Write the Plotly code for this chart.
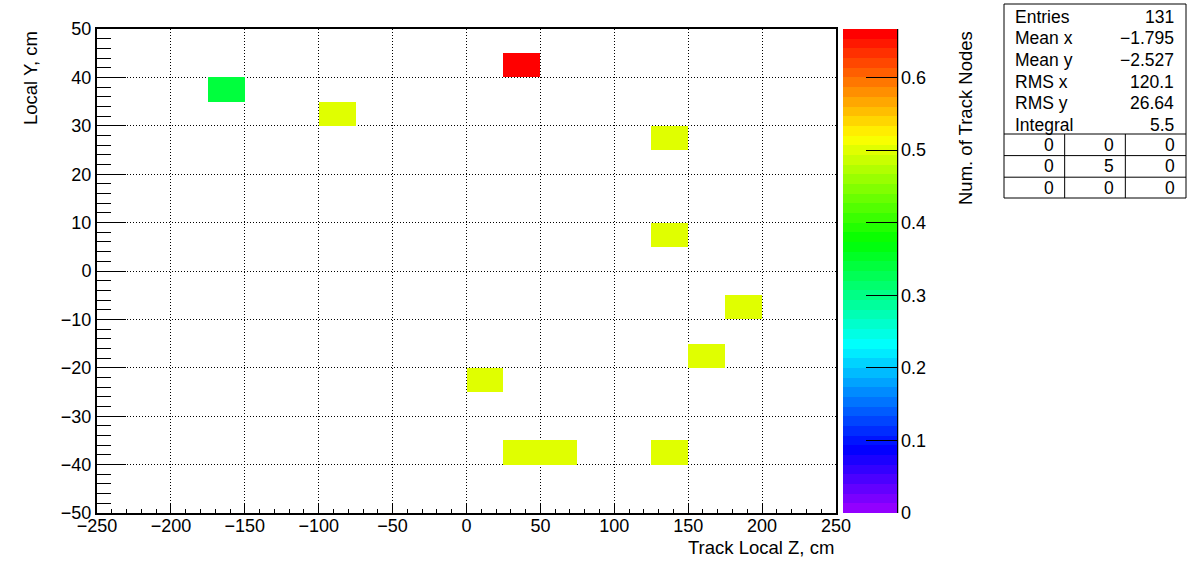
import colorsys
import numpy as np
import plotly.graph_objects as go

# ---------------- data ----------------
x_edges = list(range(-250, 251, 25))   # Track Local Z bins
y_edges = list(range(-50, 51, 5))      # Local Y bins
cell_z_low = [25, -175, -100, 125, 125, 175, 150, 0, 25, 50, 125]
cell_y_low = [40, 35, 30, 25, 5, -10, -20, -25, -40, -40, -40]
cell_value = [2/3, 1/3, 0.5, 0.5, 0.5, 0.5, 0.5, 0.5, 0.5, 0.5, 0.5]

stats_labels = ["Entries", "Mean x", "Mean y", "RMS x", "RMS y", "Integral"]
stats_values = ["131", "\u22121.795", "\u22122.527", "120.1", "26.64", "5.5"]
overflow_grid = [["0", "0", "0"], ["0", "5", "0"], ["0", "0", "0"]]

x_title = "Track Local Z, cm"
y_title = "Local Y, cm"
z_title = "Num. of Track Nodes"

# ---------------- build grid ----------------
xc = [(x_edges[i] + x_edges[i + 1]) / 2 for i in range(len(x_edges) - 1)]
yc = [(y_edges[i] + y_edges[i + 1]) / 2 for i in range(len(y_edges) - 1)]
z = np.full((len(yc), len(xc)), np.nan)
for zx, zy, v in zip(cell_z_low, cell_y_low, cell_value):
    ix = x_edges.index(zx)
    iy = y_edges.index(zy)
    z[iy, ix] = v
zmax = max(cell_value)

# ROOT "pretty palette" (50 colours, violet -> red)
ncol = 50
cols = []
for k in range(ncol):
    if k == ncol - 1:
        r, g, b = 1, 0, 0
    else:
        hue = 280 - (k + 1) * (280 / ncol)
        r, g, b = colorsys.hls_to_rgb(hue / 360, 0.5, 1)
    cols.append(f"rgb({round(r*255)},{round(g*255)},{round(b*255)})")
cs = [[0, cols[0]]]
for k in range(1, ncol):
    bnd = (k - 0.01) / ncol
    cs.append([bnd, cols[k - 1]])
    cs.append([bnd, cols[k]])
cs.append([1, cols[-1]])

FONT = "Liberation Sans, Arial, Helvetica, sans-serif"

# pixel layout
L, R, T, B = 97, 836, 29, 513
W, H = 1196, 572
def px(x):
    return (x - L) / (R - L)
def py(y):
    return (B - y) / (B - T)

fig = go.Figure()
fig.add_trace(go.Heatmap(
    x=xc, y=yc, z=z, zmin=0, zmax=zmax, colorscale=cs,
    hoverongaps=False,
    colorbar=dict(
        x=px(843), xanchor="left", xpad=0, ypad=0,
        y=0.5, yanchor="middle", len=1, lenmode="fraction",
        thickness=54, thicknessmode="pixels",
        outlinewidth=0,
        tick0=0, dtick=0.1, ticks="inside", ticklen=31, tickwidth=1,
        tickcolor="black",
        tickfont=dict(family=FONT, size=18, color="black"),
    ),
))

axis_common = dict(
    showline=True, linecolor="black", linewidth=2, mirror=True,
    ticks="inside", tickcolor="black", tickwidth=1,
    showgrid=True, gridcolor="black", gridwidth=1, griddash="1px,2px",
    zeroline=False,
    tickfont=dict(family=FONT, size=18, color="black"),
)
fig.update_xaxes(range=[-250, 250], tick0=-250, dtick=50, ticklen=9,
                 ticklabelstandoff=-5,
                 minor=dict(dtick=10, ticks="inside", ticklen=4.5, tickcolor="black", showgrid=False),
                 **axis_common)
fig.update_yaxes(range=[-50, 50], tick0=-50, dtick=10, ticklen=29,
                 minor=dict(dtick=2, ticks="inside", ticklen=14, tickcolor="black", showgrid=False),
                 **axis_common)

shapes = []
# colorbar right axis line
shapes.append(dict(type="line", xref="paper", yref="paper",
                   x0=px(897.5), x1=px(897.5), y0=0, y1=1,
                   line=dict(color="black", width=1.5)))
# stats box
bx0, bx1, by0, by1 = 1004, 1186, 4, 198
shapes.append(dict(type="rect", xref="paper", yref="paper",
                   x0=px(bx0), x1=px(bx1), y0=py(by1), y1=py(by0),
                   line=dict(color="black", width=1), fillcolor="white"))
row_h = 21.6
grid_top = 134
for yy in [grid_top, grid_top + row_h, grid_top + 2 * row_h]:
    shapes.append(dict(type="line", xref="paper", yref="paper",
                       x0=px(bx0), x1=px(bx1), y0=py(yy), y1=py(yy),
                       line=dict(color="black", width=1)))
cw = (bx1 - bx0) / 3
for xx in [bx0 + cw, bx0 + 2 * cw]:
    shapes.append(dict(type="line", xref="paper", yref="paper",
                       x0=px(xx), x1=px(xx), y0=py(grid_top), y1=py(by1),
                       line=dict(color="black", width=1)))

ann = []
sfont = dict(family=FONT, size=17.5, color="black")
for i, (lab, val) in enumerate(zip(stats_labels, stats_values)):
    yy = 17 + i * 21.5
    ann.append(dict(text=lab, x=px(1013), y=py(yy), xanchor="left", yanchor="middle",
                    xref="paper", yref="paper", showarrow=False, font=sfont))
    ann.append(dict(text=val, x=px(1176), y=py(yy), xanchor="right", yanchor="middle",
                    xref="paper", yref="paper", showarrow=False, font=sfont))
for r_i, row in enumerate(overflow_grid):
    yy = grid_top + row_h * (r_i + 0.5)
    for c_i, val in enumerate(row):
        xx = bx0 + cw * (c_i + 1) - 9
        ann.append(dict(text=val, x=px(xx), y=py(yy), xanchor="right", yanchor="middle",
                        xref="paper", yref="paper", showarrow=False, font=sfont))

tfont = dict(family=FONT, size=18.5, color="black")
ann.append(dict(text=x_title, x=1, y=py(547), xanchor="right", yanchor="middle",
                xref="paper", yref="paper", showarrow=False, font=tfont))
ann.append(dict(text=y_title, x=px(30), y=py(29), xanchor="center", yanchor="top",
                textangle=-90, xref="paper", yref="paper", showarrow=False, font=tfont))
ann.append(dict(text=z_title, x=px(965), y=py(29), xanchor="center", yanchor="top",
                textangle=-90, xref="paper", yref="paper", showarrow=False, font=tfont))

fig.update_layout(
    width=W, height=H,
    margin=dict(l=L, r=W - R, t=T, b=H - B, pad=0),
    paper_bgcolor="white", plot_bgcolor="white",
    shapes=shapes, annotations=ann, showlegend=False,
    font=dict(family=FONT, color="black"),
)

fig.write_html("out.html", config={"displayModeBar": False},
               post_script="document.body.style.margin='0px';")
